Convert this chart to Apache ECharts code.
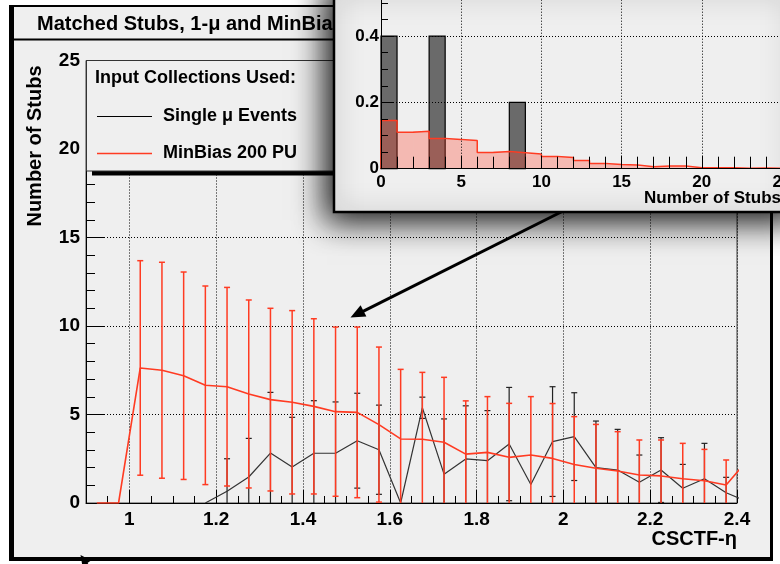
<!DOCTYPE html>
<html>
<head>
<meta charset="utf-8">
<script src="https://cdn.jsdelivr.net/npm/echarts@6/dist/echarts.min.js"></script>
<style>html,body{margin:0;padding:0;background:#fff}#c{width:780px;height:564px}</style>
</head>
<body>
<div id="c"></div>
<script>
// ---------------- main plot: CSCTF-eta bins ----------------
const eta = [0.925, 0.975, 1.025, 1.075, 1.125, 1.175, 1.225, 1.275, 1.325, 1.375, 1.425, 1.475, 1.525, 1.575, 1.625, 1.675, 1.725, 1.775, 1.825, 1.875, 1.925, 1.975, 2.025, 2.075, 2.125, 2.175, 2.225, 2.275, 2.325, 2.375, 2.425];
const minBiasStubs = [0, 0, 7.63, 7.50, 7.19, 6.65, 6.57, 6.16, 5.84, 5.69, 5.46, 5.16, 5.12, 4.43, 3.62, 3.60, 3.43, 2.76, 2.86, 2.58, 2.71, 2.52, 2.18, 1.96, 1.81, 1.58, 1.53, 1.37, 1.26, 1.02, 2.44];
const minBiasErr   = [0, 0, 6.06, 6.10, 5.86, 5.61, 5.61, 5.31, 5.16, 5.18, 4.95, 4.78, 4.82, 4.38, 3.93, 3.78, 3.67, 3.01, 3.15, 3.05, 3.30, 3.10, 2.70, 2.48, 2.22, 1.98, 2.03, 2.00, 1.77, 1.41, 0];
const singleMuStubs = [null, null, null, null, null, 0, 0.66, 1.47, 2.82, 2.03, 2.81, 2.81, 3.52, 3.01, 0, 5.38, 1.63, 2.49, 2.39, 3.33, 1.05, 3.47, 3.75, 2.00, 1.86, 1.17, 1.86, 0.83, 1.37, 0.58, 0.06];
const singleMuErr   = [null, null, null, null, null, 0, 1.84, 2.18, 3.43, 2.81, 2.97, 2.90, 2.68, 2.52, 0, 0.60, 3.12, 3.00, 2.83, 3.20, 0, 3.10, 2.48, 2.63, 2.30, 1.54, 1.83, 1.35, 2.00, 0.87, 0];
const etaTicks = [1, 1.2, 1.4, 1.6, 1.8, 2, 2.2, 2.4];

// ---------------- inset: number of stubs distribution ----------------
const stubLow = [0, 1, 2, 3, 4, 5, 6, 7, 8, 9, 10, 11, 12, 13, 14, 15, 16, 17, 18, 19, 20, 21, 22, 23, 24];
const minBiasFrac = [0.145, 0.110, 0.113, 0.091, 0.088, 0.085, 0.049, 0.052, 0.048, 0.044, 0.037, 0.034, 0.025, 0.016, 0.013, 0.011, 0.006, 0.008, 0.008, 0.003, 0.003, 0.003, 0.001, 0.002, 0.001];
const singleMuFrac = [0.4, 0, 0, 0.4, 0, 0, 0, 0, 0.2, 0, 0, 0, 0, 0, 0, 0, 0, 0, 0, 0, 0, 0, 0, 0, 0];

const RED = '#ff3b22';
const FONT = '"Liberation Sans", Arial, Helvetica, sans-serif';

function errorBars(color, width) {
  return function (params, api) {
    const x = api.value(0), v = api.value(1), e = api.value(2);
    if (!e || isNaN(v)) return null;
    const cs = params.coordSys;
    const p = api.coord([x, v]);
    if (p[0] < cs.x - 0.5 || p[0] > cs.x + cs.width + 0.5) return null;
    const t = api.coord([x, v + e]), b = api.coord([x, v - e]);
    const yTop = Math.max(t[1], cs.y), yBot = Math.min(b[1], cs.y + cs.height);
    const st = { stroke: color, lineWidth: width };
    const kids = [{ type: 'line', shape: { x1: p[0], y1: yTop, x2: p[0], y2: yBot }, style: st }];
    const hw = 3;
    if (t[1] >= cs.y) kids.push({ type: 'line', shape: { x1: p[0] - hw, y1: t[1], x2: p[0] + hw, y2: t[1] }, style: st });
    if (b[1] <= cs.y + cs.height - 0.5) kids.push({ type: 'line', shape: { x1: p[0] - hw, y1: b[1], x2: p[0] + hw, y2: b[1] }, style: st });
    return { type: 'group', children: kids };
  };
}

function histBars(style) {
  return function (params, api) {
    const lo = api.value(0), v = api.value(1);
    if (!v) return null;
    const a = api.coord([lo, 0]), b = api.coord([lo + 1, v]);
    return { type: 'rect', shape: { x: a[0], y: b[1], width: b[0] - a[0], height: a[1] - b[1] }, style: style };
  };
}

const pairs = (xs, ys) => xs.map((x, i) => [x, ys[i]]);
const triples = (xs, ys, es) => xs.map((x, i) => [x, ys[i], es[i]]).filter(d => d[1] !== null && d[2]);

const chart = echarts.init(document.getElementById('c'), null, { renderer: 'canvas' });

const dotted = { color: '#000', width: 1, type: [1, 2] };
const mainLabel = { color: '#000', fontFamily: FONT, fontWeight: 'bold', fontSize: 19 };
const insetLabel = { color: '#000', fontFamily: FONT, fontWeight: 'bold', fontSize: 17 };

chart.setOption({
  animation: false,
  backgroundColor: '#efefef',
  grid: [
    { left: 86, top: 60.5, width: 651, height: 442.5, outerBoundsMode: 'none', containLabel: false, show: true, borderColor: '#444', borderWidth: 1, backgroundColor: 'transparent' },
    { left: 381, top: -30.3, width: 401, height: 199, outerBoundsMode: 'none', containLabel: false, show: false },
    { left: 86, top: 60.5, width: 651, height: 442.5, outerBoundsMode: 'none', containLabel: false, show: false }
  ],
  xAxis: [
    {
      gridIndex: 0, type: 'value', min: 0.9, max: 2.4, splitNumber: 7, z: 1,
      axisLine: { lineStyle: { color: '#000', width: 1 } },
      axisTick: { inside: true, length: 13, customValues: etaTicks, lineStyle: { color: '#000' } },
      axisLabel: Object.assign({ customValues: etaTicks, margin: 7, formatter: v => (v < 0.95 ? '' : String(v)) }, mainLabel),
      splitLine: { show: true, lineStyle: dotted }
    },
    {
      gridIndex: 1, type: 'value', min: 0, max: 25, interval: 5, z: 15,
      axisLine: { lineStyle: { color: '#000', width: 1 } },
      axisTick: { inside: true, length: 13, lineStyle: { color: '#000' } },
      minorTick: { show: true, splitNumber: 5, length: 12, lineStyle: { color: '#000' } },
      axisLabel: Object.assign({ margin: 5 }, insetLabel),
      splitLine: { show: true, lineStyle: dotted }
    },
    {
      gridIndex: 2, type: 'value', min: 0.9, max: 2.4, interval: 0.05, z: 1,
      axisLine: { show: false },
      axisTick: { inside: true, length: 7, lineStyle: { color: '#000' } },
      axisLabel: { show: false },
      splitLine: { show: false }
    }
  ],
  yAxis: [
    {
      gridIndex: 0, type: 'value', min: 0, max: 25, interval: 5, z: 1,
      axisLine: { show: true, lineStyle: { color: '#000', width: 1 } },
      axisTick: { show: true, inside: true, length: 19, lineStyle: { color: '#000' } },
      minorTick: { show: true, splitNumber: 5, length: 9, lineStyle: { color: '#000' } },
      axisLabel: Object.assign({ margin: 6 }, mainLabel),
      splitLine: { show: true, lineStyle: dotted }
    },
    {
      gridIndex: 1, type: 'value', min: 0, max: 0.6, interval: 0.2, z: 15,
      axisLine: { show: true, lineStyle: { color: '#000', width: 1 } },
      axisTick: { show: true, inside: true, length: 13, lineStyle: { color: '#000' } },
      minorTick: { show: true, splitNumber: 4, length: 7, lineStyle: { color: '#000' } },
      axisLabel: Object.assign({ margin: 2 }, insetLabel),
      splitLine: { show: true, lineStyle: dotted }
    },
    { gridIndex: 2, type: 'value', min: 0, max: 1, show: false }
  ],
  series: [
    {
      name: 'Single μ Events', type: 'line', xAxisIndex: 0, yAxisIndex: 0, z: 3,
      data: pairs(eta, singleMuStubs), symbol: 'none', connectNulls: false,
      lineStyle: { color: '#333', width: 1.2 }
    },
    {
      type: 'custom', xAxisIndex: 0, yAxisIndex: 0, z: 3,
      data: triples(eta, singleMuStubs, singleMuErr), encode: { x: 0, y: 1 },
      renderItem: errorBars('#222', 1.2)
    },
    {
      name: 'MinBias 200 PU', type: 'line', xAxisIndex: 0, yAxisIndex: 0, z: 4,
      data: pairs(eta, minBiasStubs), symbol: 'none',
      lineStyle: { color: RED, width: 1.6 }
    },
    {
      type: 'custom', xAxisIndex: 0, yAxisIndex: 0, z: 4,
      data: triples(eta, minBiasStubs, minBiasErr), encode: { x: 0, y: 1 },
      renderItem: errorBars(RED, 1.5)
    },
    {
      type: 'custom', xAxisIndex: 1, yAxisIndex: 1, z: 12,
      data: pairs(stubLow, singleMuFrac), encode: { x: 0, y: 1 },
      renderItem: histBars({ fill: '#6a6a6a', stroke: '#000', lineWidth: 1.2 })
    },
    {
      type: 'custom', xAxisIndex: 1, yAxisIndex: 1, z: 13,
      data: pairs(stubLow, minBiasFrac), encode: { x: 0, y: 1 },
      renderItem: histBars({ fill: 'rgba(255,70,50,0.32)' })
    },
    {
      type: 'line', xAxisIndex: 1, yAxisIndex: 1, z: 14, step: 'end', symbol: 'none',
      data: [[stubLow[0], 0]].concat(pairs(stubLow, minBiasFrac), [[stubLow[stubLow.length - 1] + 1, minBiasFrac[minBiasFrac.length - 1]]]),
      lineStyle: { color: RED, width: 1.5 }
    }
  ],
  graphic: {
    elements: [
      // white margin outside the pad frame
      { type: 'rect', z: 1, silent: true, shape: { x: 0, y: 0, width: 9, height: 564 }, style: { fill: '#fff' } },
      { type: 'rect', z: 1, silent: true, shape: { x: 773, y: 0, width: 7, height: 564 }, style: { fill: '#fff' } },
      { type: 'rect', z: 1, silent: true, shape: { x: 0, y: 561, width: 780, height: 3 }, style: { fill: '#fff' } },
      { type: 'rect', z: 1, silent: true, shape: { x: 0, y: 0, width: 780, height: 5 }, style: { fill: '#fff' } },
      // pad frame
      { type: 'rect', z: 5, silent: true, shape: { x: 9, y: 5, width: 5, height: 556 }, style: { fill: '#000' } },
      { type: 'rect', z: 5, silent: true, shape: { x: 9, y: 5, width: 764, height: 2 }, style: { fill: '#000' } },
      { type: 'rect', z: 5, silent: true, shape: { x: 770, y: 5, width: 3, height: 556 }, style: { fill: '#000' } },
      { type: 'rect', z: 5, silent: true, shape: { x: 9, y: 557, width: 764, height: 4 }, style: { fill: '#000' } },
      // title box
      { type: 'rect', z: 5, silent: true, shape: { x: 14, y: 38.5, width: 756, height: 2 }, style: { fill: '#000' } },
      { type: 'text', z: 5, silent: true, x: 37, y: 24,
        style: { text: 'Matched Stubs, 1-μ and MinBias 200 PU', font: 'bold 20px ' + FONT, fill: '#000', verticalAlign: 'middle', textVerticalAlign: 'middle' } },
      // axis titles
      { type: 'text', z: 5, silent: true, x: 35, y: 146, rotation: Math.PI / 2,
        style: { text: 'Number of Stubs', font: 'bold 20px ' + FONT, fill: '#000', align: 'center', textAlign: 'center', verticalAlign: 'middle', textVerticalAlign: 'middle' } },
      { type: 'text', z: 5, silent: true, x: 737, y: 539,
        style: { text: 'CSCTF-η', font: 'bold 20px ' + FONT, fill: '#000', align: 'right', textAlign: 'right', verticalAlign: 'middle', textVerticalAlign: 'middle' } },
      // legend box
      { type: 'rect', z: 5, silent: true, shape: { x: 92, y: 171, width: 300, height: 4.5 }, style: { fill: '#000' } },
      { type: 'rect', z: 5, silent: true, shape: { x: 86.5, y: 60.5, width: 300, height: 110.5 }, style: { fill: '#efefef', stroke: '#333', lineWidth: 1 } },
      { type: 'text', z: 6, silent: true, x: 95, y: 78,
        style: { text: 'Input Collections Used:', font: 'bold 18px ' + FONT, fill: '#000', verticalAlign: 'middle', textVerticalAlign: 'middle' } },
      { type: 'line', z: 6, silent: true, shape: { x1: 97, y1: 116.5, x2: 152, y2: 116.5 }, style: { stroke: '#000', lineWidth: 1 } },
      { type: 'text', z: 6, silent: true, x: 163, y: 116,
        style: { text: 'Single μ Events', font: 'bold 18px ' + FONT, fill: '#000', verticalAlign: 'middle', textVerticalAlign: 'middle' } },
      { type: 'line', z: 6, silent: true, shape: { x1: 97, y1: 153.5, x2: 152, y2: 153.5 }, style: { stroke: RED, lineWidth: 1.5 } },
      { type: 'text', z: 6, silent: true, x: 163, y: 153,
        style: { text: 'MinBias 200 PU', font: 'bold 18px ' + FONT, fill: '#000', verticalAlign: 'middle', textVerticalAlign: 'middle' } },
      // arrow from inset to the main plot
      { type: 'line', z: 7, silent: true, shape: { x1: 590, y1: 197.5, x2: 362, y2: 311.8 }, style: { stroke: '#000', lineWidth: 3 } },
      { type: 'polygon', z: 7, silent: true, shape: { points: [[350.5, 317.5], [366.4, 316.6], [360.6, 305.3]] }, style: { fill: '#000' } },
      // arrow tip at bottom left
      { type: 'line', z: 7, silent: true, shape: { x1: 84, y1: 560, x2: 91, y2: 570 }, style: { stroke: '#000', lineWidth: 2.5 } },
      { type: 'polygon', z: 7, silent: true, shape: { points: [[80.5, 555], [91, 560.5], [82.5, 566.5]] }, style: { fill: '#000' } },
      // inset panel with shadow
      { type: 'rect', z: 10, silent: true, shape: { x: 334, y: -20, width: 470, height: 232 },
        style: { fill: '#efefef', stroke: '#000', lineWidth: 2.5, shadowBlur: 30, shadowColor: 'rgba(0,0,0,0.95)', shadowOffsetX: -7, shadowOffsetY: 8 } },
      { type: 'text', z: 16, silent: true, x: 781, y: 198,
        style: { text: 'Number of Stubs', font: 'bold 17px ' + FONT, fill: '#000', align: 'right', textAlign: 'right', verticalAlign: 'middle', textVerticalAlign: 'middle' } }
    ]
  }
});
</script>
</body>
</html>
